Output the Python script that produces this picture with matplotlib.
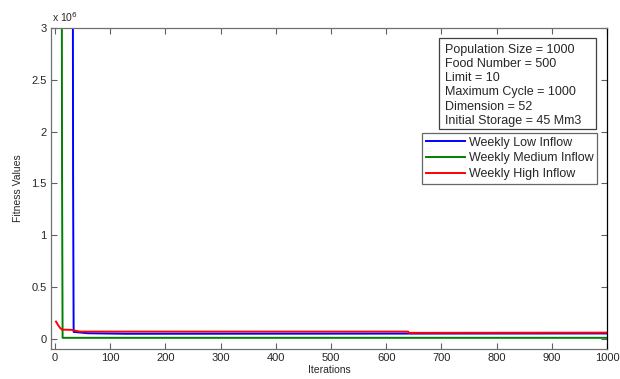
import matplotlib
matplotlib.use("Agg")
import matplotlib.pyplot as plt
from matplotlib.ticker import FuncFormatter, MultipleLocator
from matplotlib.patches import Rectangle

plt.rcParams['font.family'] = ['Liberation Sans', 'DejaVu Sans']

# Breakpoints (iteration, best fitness)
low_iter = [1, 32, 33, 34, 60, 130, 1000]
low_vals = [6.0e6, 6.0e6, 1.54e6, 0.065e6, 0.052e6, 0.047e6, 0.050e6]

med_iter = [1, 12, 13, 14, 1000]
med_vals = [6.0e6, 6.0e6, 1.60e6, 0.008e6, 0.008e6]

high_iter = [2, 6, 10, 13, 30, 45, 640, 641, 1000]
high_vals = [0.165e6, 0.13e6, 0.10e6, 0.087e6, 0.085e6, 0.068e6, 0.068e6, 0.056e6, 0.058e6]

series_names = ['Weekly Low Inflow', 'Weekly Medium Inflow', 'Weekly High Inflow']
info_lines = ['Population Size = 1000', 'Food Number = 500', 'Limit = 10',
              'Maximum Cycle = 1000', 'Dimension = 52', 'Initial Storage = 45 Mm3']

W, H = 620, 379
fig = plt.figure(figsize=(W / 100, H / 100), dpi=100)
L, R, T, B = 51, 607, 28, 349
ax = fig.add_axes([L / W, 1 - B / H, (R - L) / W, (B - T) / H])

lw = 1.4
ax.plot(low_iter, low_vals, color='#0000ff', lw=lw, label=series_names[0])
ax.plot(med_iter, med_vals, color='#008000', lw=lw, label=series_names[1])
ax.plot(high_iter, high_vals, color='#ff0000', lw=lw, label=series_names[2])

ax.set_xlim(-7, 1000)
ax.set_ylim(-0.1e6, 3e6)
ax.xaxis.set_major_locator(MultipleLocator(100))
ax.yaxis.set_major_locator(MultipleLocator(0.5e6))
ax.yaxis.set_major_formatter(FuncFormatter(lambda v, p: f"{v/1e6:g}"))

tc = '#262626'
ax.tick_params(direction='in', length=4, width=0.8, top=True, right=True,
               labelsize=8, labelcolor=tc, color='#606060', pad=3)
for s in ['left', 'bottom', 'top']:
    ax.spines[s].set_color('#707070')
    ax.spines[s].set_linewidth(0.9)
ax.spines['right'].set_color('black')
ax.spines['right'].set_linewidth(0.9)

ax.set_xlabel('Iterations', fontsize=7.5, color=tc, labelpad=1)
ax.set_ylabel('Fitness Values', fontsize=7.5, color=tc, labelpad=6)

fig.text(52 / W, 1 - 17 / H, r'x 10$^6$', fontsize=7.5, color=tc, va='center', ha='left')

# Info box
axw, axh = (R - L), (B - T)
def ax_x(px):
    return (px - L) / axw
def ax_y(py):
    return (B - py) / axh

ax.add_patch(Rectangle((ax_x(439), ax_y(129)), ax_x(596) - ax_x(439), ax_y(38) - ax_y(129),
                       transform=ax.transAxes, fill=True, facecolor='white',
                       edgecolor='#404040', lw=0.9, zorder=5))
for i, line in enumerate(info_lines):
    ax.text(ax_x(445), ax_y(49.5 + i * 14.3), line, transform=ax.transAxes,
            fontsize=9, color=tc, va='center', ha='left', zorder=6)

leg = ax.legend(loc='upper right', bbox_to_anchor=(ax_x(597), ax_y(133)),
                borderaxespad=0, fontsize=9, frameon=True, fancybox=False,
                handlelength=3.1, handletextpad=0.3, labelspacing=0.3,
                borderpad=0.3)
leg.get_frame().set_edgecolor('#404040')
leg.get_frame().set_linewidth(0.9)
for t in leg.get_texts():
    t.set_color(tc)

fig.savefig('out.png', dpi=100)
